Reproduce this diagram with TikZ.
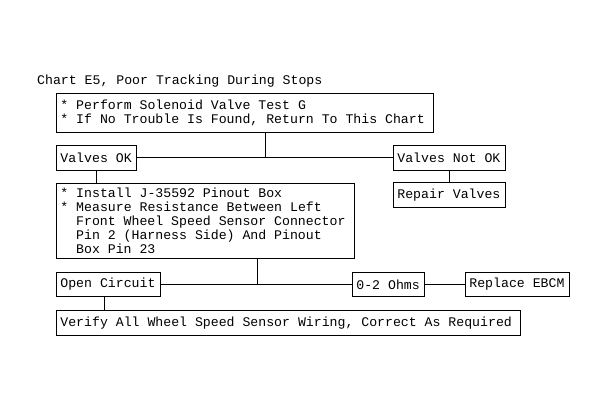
\documentclass[tikz,border=0pt]{standalone}
\usepackage{fontspec}
\setmonofont{Liberation Mono}
\usepackage{tikz}

\tikzset{
	chartbox/.style={draw, line width=.8pt, anchor=north west, inner xsep=4pt, inner ysep=0pt, align=left,
		execute at begin node={\spaceskip=0pt\xspaceskip=0pt\relax}},
	chartline/.style={line width=.8pt}
}
\newcommand{\ind}{\hspace*{15.8pt}}

\begin{document}
\begin{tikzpicture}[x=1pt, y=-1pt, font=\ttfamily\fontsize{13.2}{14}\selectfont]
	
	\useasboundingbox[fill=white] (0,0) rectangle (607,411);
	
	\node[anchor=base west, inner sep=0pt] (title) at (37,85) {Chart E5, Poor Tracking During Stops};
	
	\node[chartbox, text width=369pt, minimum height=39pt] (solenoid) at (56,93) {{*} Perform Solenoid Valve Test G\\{*} If No Trouble Is Found, Return To This Chart};
	\node[chartbox, text width=72pt, minimum height=25pt] (ok) at (56,145) {Valves OK};
	\node[chartbox, text width=104pt, minimum height=25pt] (notok) at (393,145) {Valves Not OK};
	\node[chartbox, text width=104pt, minimum height=25pt] (repair) at (393,182) {Repair Valves};
	\node[chartbox, text width=290pt, minimum height=75pt] (measure) at (56,183) {{*} Install J-35592 Pinout Box\\{*} Measure Resistance Between Left\\\ind Front Wheel Speed Sensor Connector\\\ind Pin 2 (Harness Side) And Pinout\\\ind Box Pin 23};
	\node[chartbox, text width=96pt, minimum height=24pt] (open) at (56,272) {Open Circuit};
	\node[chartbox, text width=64pt, minimum height=24pt] (ohms) at (352,272) {0-2 Ohms};
	\node[chartbox, text width=96pt, minimum height=24pt] (ebcm) at (465,272) {Replace EBCM};
	\node[chartbox, text width=456pt, minimum height=25pt] (verify) at (56,310) {Verify All Wheel Speed Sensor Wiring, Correct As Required};
	
	\coordinate (j1) at (265,157);
	\coordinate (j2) at (257,284);
	\coordinate (j3) at (104,300);
	
	\draw[chartline] (solenoid.south -| j1) -- (j1);
	\draw[chartline] (ok) -- (notok);
	\draw[chartline] (ok.south) -- (ok.south |- measure.north);
	\draw[chartline] (notok.south) -- (repair.north);
	\draw[chartline] (measure.south -| j2) -- (j2);
	\draw[chartline] (open) -- (ohms) -- (ebcm);
	\draw[chartline] (open.south -| j3) -- (verify.north -| j3);
	
\end{tikzpicture}
\end{document}
